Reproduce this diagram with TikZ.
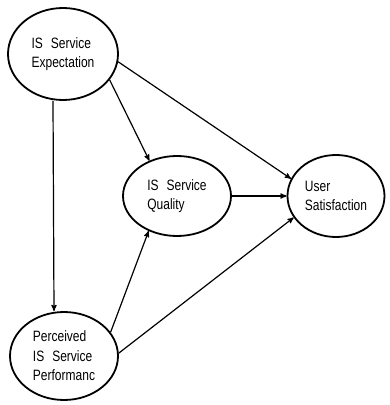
\documentclass[tikz,border=0pt]{standalone}
\usepackage{fontspec}
\newfontfamily\diagfont[FakeStretch=0.8]{Liberation Sans}
\usetikzlibrary{arrows,shapes.geometric}

\begin{document}
\begin{tikzpicture}[->,>=stealth',line width=1.2pt,x=1pt,y=1pt,
        construct/.style={ellipse,draw,line width=1.8pt,inner sep=0pt,align=left,
          font=\diagfont\fontsize{15}{19.5}\selectfont}]

  \useasboundingbox (0,0) rectangle (389,405);

  \node[construct,minimum width=110,minimum height=92] (IS Expectation) at (63,351) {IS\hspace{8pt}Service\\Expectation};
  \node[construct,minimum width=108,minimum height=80] (IS Quality) at (177,209) {IS\hspace{8pt}Service\\Quality};
  \node[construct,minimum width=97,minimum height=82] (User Satisfaction) at (336,209) {User\\Satisfaction};
  \node[construct,minimum width=108,minimum height=88] (IS Performance) at (64,49) {Perceived\\IS\hspace{8pt}Service\\Performanc};

  \path ([xshift=-10pt]IS Expectation.south) edge ([xshift=-10pt]IS Performance.north)
        (IS Expectation.-29) edge (IS Quality.128)
        (IS Expectation.-8) edge (User Satisfaction.159)

        (IS Quality) edge (User Satisfaction)

        (IS Performance.27) edge (IS Quality.231)
        (IS Performance.3) edge (User Satisfaction.207);
\end{tikzpicture}
\end{document}
